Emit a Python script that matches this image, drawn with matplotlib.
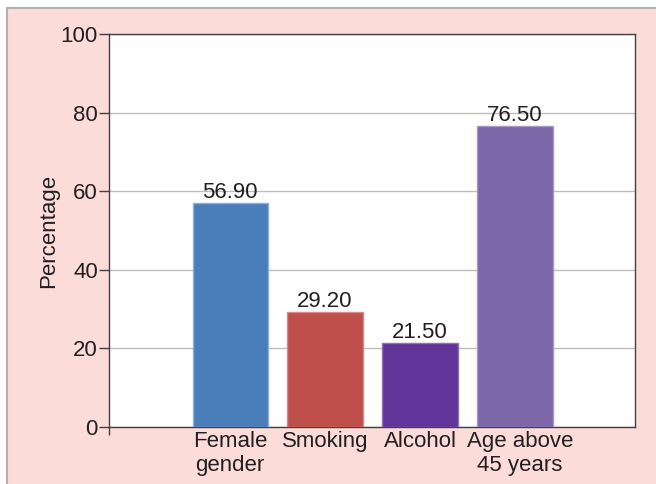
import matplotlib
matplotlib.use("Agg")
import matplotlib.pyplot as plt
from matplotlib.patches import Rectangle
from matplotlib.transforms import ScaledTranslation

categories = ["Female\ngender", "Smoking", "Alcohol", "Age above\n45 years"]
values = [56.90, 29.20, 21.50, 76.50]
colors = ["#4a7ebb", "#be4f4b", "#61349a", "#7b66a8"]
edges = ["#8fb0da", "#d98a88", "#8f72b8", "#a898c8"]
yticks = [0, 20, 40, 60, 80, 100]

plt.rcParams['font.family'] = ['Liberation Sans', 'DejaVu Sans']
FS = 16

fig = plt.figure(figsize=(6.56, 4.84), dpi=100, facecolor="white")
fig.patches.append(Rectangle((7/656, -0.1), 1.1, 1 - 8/484 + 0.1,
                             transform=fig.transFigure, facecolor="#fcdcd8",
                             edgecolor="#b0b0b0", linewidth=1.5, zorder=-10))

ax = fig.add_axes([109/656, 1 - 427/484, (635 - 109)/656, (427 - 34)/484])
ax.set_zorder(1)
ax.set_facecolor("white")
x = list(range(len(categories)))
ax.bar(x, values, width=0.79, color=colors, edgecolor=edges, linewidth=1, zorder=3)
for xi, v in zip(x, values):
    ax.annotate(f"{v:.2f}", (xi, v), xytext=(0, 0), textcoords="offset points",
                ha="center", va="bottom", fontsize=FS, color="#231f20", zorder=4)

xmin, xmax = -1.274, 4.263
ax.set_xlim(xmin, xmax)
ax.set_ylim(0, 100)
ax.set_yticks(yticks)
ax.set_yticklabels([str(t) for t in yticks], fontsize=FS, color="#231f20")
ax.set_xticks(x)
ax.set_xticklabels(categories, fontsize=FS, color="#231f20", linespacing=1.15)
ax.tick_params(axis="x", length=0, pad=3)
ax.tick_params(axis="y", length=7, width=1, color="#404040", pad=1)
ax.set_xticks([xmin + 0.002], minor=True)
ax.tick_params(axis="x", which="minor", length=6, width=1, color="#404040")
lbl = ax.get_xticklabels()[3]
lbl.set_transform(lbl.get_transform() + ScaledTranslation(0.05, 0, fig.dpi_scale_trans))
ax.grid(axis="y", color="#bdbdbd", linewidth=1, zorder=0)
for s in ax.spines.values():
    s.set_color("#404040")
    s.set_linewidth(1)
ax.set_ylabel("Percentage", fontsize=FS, color="#231f20", labelpad=1)

fig.savefig("out.png", dpi=100, facecolor=fig.get_facecolor())
